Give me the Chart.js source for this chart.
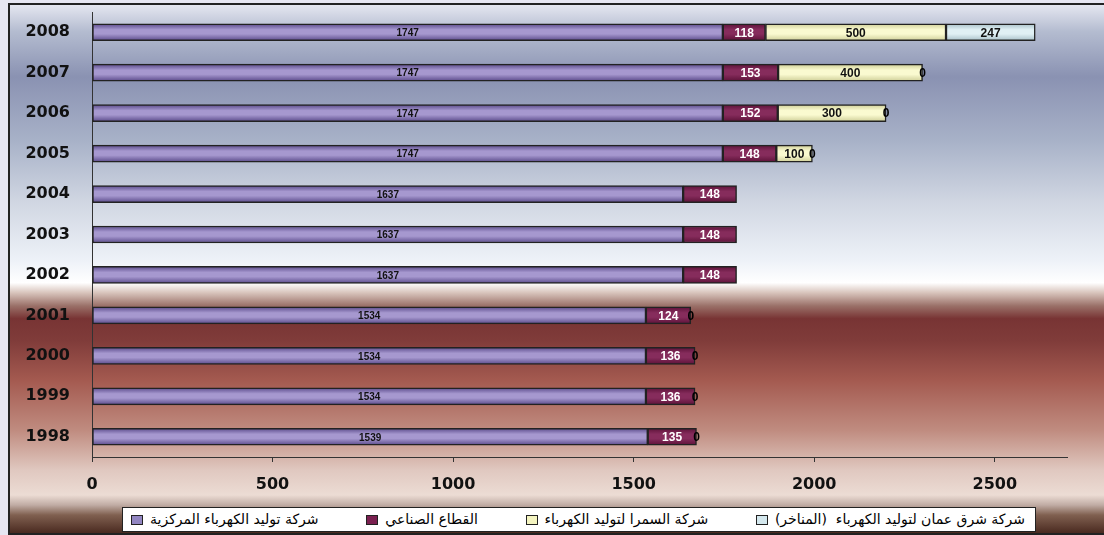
<!DOCTYPE html>
<html>
<head>
<meta charset="utf-8">
<script src="https://cdn.jsdelivr.net/npm/chart.js@4/dist/chart.umd.min.js"></script>
<style>
  html, body { margin: 0; padding: 0; }
  body { width: 1104px; height: 535px; background: #e6e6f2; position: relative; overflow: hidden; }
  #frame {
    position: absolute; left: 8px; top: 3px; width: 1104px; height: 528px;
    border-left: 2px solid #222; border-top: 2px solid #222; border-bottom: 2px solid #222;
    background: linear-gradient(to bottom,
      #e4e6f0 0%, #b4bcd0 5%, #8a92b2 13.6%, #a8b2c8 25.8%, #d0d6e2 37.2%,
      #eef2f8 48.5%, #ffffff 52.6%, #d8c4bc 54.5%, #9a7068 57%, #783434 59.4%,
      #803c3a 63.6%, #a45a50 71.1%, #c08c80 80.6%, #e0c8c0 88.1%, #ecdcd4 92.8%,
      #c0aca4 94.7%, #806050 96.6%, #4a2a20 100%);
  }
  #chart { position: absolute; left: 0; top: 0; }
  #legend {
    position: absolute; left: 122px; top: 507px; width: 914px; height: 25px;
    background: #fff; border: 1px solid #222; box-sizing: border-box;
    padding: 0 10px 0 8px;
    display: flex; align-items: center; justify-content: space-between;
    font-family: "DejaVu Sans", sans-serif; font-size: 14px; color: #000;
  }
  #legend .item { display: flex; align-items: center; }
  #legend .sw { width: 10px; height: 8px; border: 1px solid #222; margin-right: 7px; }
  #legend .tx { white-space: pre; line-height: 17px; }
</style>
</head>
<body>
<div id="frame"></div>
<canvas id="chart" width="1104" height="535"></canvas>
<div id="legend"></div>
<script>
'use strict';

let years = ['2008', '2007', '2006', '2005', '2004', '2003', '2002', '2001', '2000', '1999', '1998'];

let centralGen = [1747, 1747, 1747, 1747, 1637, 1637, 1637, 1534, 1534, 1534, 1539];
let industrial = [118, 153, 152, 148, 148, 148, 148, 124, 136, 136, 135];
let samra = [500, 400, 300, 100, null, null, null, 0, 0, 0, 0];
let eastAmman = [247, 0, 0, 0, null, null, null, null, null, null, null];

let seriesNames = [
    'شركة توليد الكهرباء المركزية',
    'القطاع الصناعي',
    'شركة السمرا لتوليد الكهرباء',
    'شركة شرق عمان لتوليد الكهرباء  (المناخر)'
];

let xTicks = [0, 500, 1000, 1500, 2000, 2500];

const BAR_H = 17;
const FONT = '"Liberation Sans", Arial, sans-serif';
const AXIS_FONT = '"DejaVu Sans", sans-serif';

let swatch = ['#9286c2', '#7a2050', '#f4f4c0', '#d4e8ee'];

// dark edge / light middle, like the old 3d-looking excel bars
function barFill(dark, light, flat) {
    return function(context) {
        let chart = context.chart;
        let ya = chart.scales.y;
        if (!ya || context.dataIndex === undefined) return flat;
        let c = ya.getPixelForValue(context.dataIndex);
        if (!isFinite(c)) return flat;
        let g = chart.ctx.createLinearGradient(0, c - BAR_H / 2, 0, c + BAR_H / 2);
        g.addColorStop(0, dark);
        g.addColorStop(0.35, light);
        g.addColorStop(0.6, light);
        g.addColorStop(1, dark);
        return g;
    };
}

let labelStyles = [
    { font: 'bold 10px ' + FONT, color: '#111' },
    { font: 'bold 12px ' + FONT, color: '#fff' },
    { font: 'bold 12px ' + FONT, color: '#111' },
    { font: 'bold 12px ' + FONT, color: '#111' }
];

const barLabels = {
    id: 'barLabels',
    afterDatasetsDraw(chart) {
        let ctx = chart.ctx;
        chart.data.datasets.forEach((ds, i) => {
            let meta = chart.getDatasetMeta(i);
            meta.data.forEach((bar, j) => {
                let v = ds.data[j];
                if (v === null || v === undefined) return;
                ctx.save();
                ctx.textAlign = 'center';
                ctx.textBaseline = 'middle';
                if (v === 0) {
                    ctx.font = 'bold 12px ' + FONT;
                    ctx.fillStyle = '#000';
                    ctx.fillText('0', bar.x, bar.y + 1);
                } else {
                    ctx.font = labelStyles[i].font;
                    ctx.fillStyle = labelStyles[i].color;
                    ctx.fillText(String(v), (bar.x + bar.base) / 2, bar.y + 1);
                }
                ctx.restore();
            });
        });
    }
};

let ctx = document.getElementById('chart').getContext('2d');
let myChart = new Chart(ctx, {
    type: 'bar',
    data: {
        labels: years,
        datasets: [{
            label: seriesNames[0],
            data: centralGen,
            backgroundColor: barFill('#5a4a8a', '#a698cf', swatch[0]),
            borderColor: '#222',
            borderWidth: 1.5,
            borderSkipped: false
        }, {
            label: seriesNames[1],
            data: industrial,
            backgroundColor: barFill('#5c1238', '#862c5c', swatch[1]),
            borderColor: '#222',
            borderWidth: 1.5,
            borderSkipped: false
        }, {
            label: seriesNames[2],
            data: samra,
            backgroundColor: barFill('#cfcf98', '#fafad0', swatch[2]),
            borderColor: '#222',
            borderWidth: 1.5,
            borderSkipped: false
        }, {
            label: seriesNames[3],
            data: eastAmman,
            backgroundColor: barFill('#a8c0c8', '#e0f0f4', swatch[3]),
            borderColor: '#222',
            borderWidth: 1.5,
            borderSkipped: false
        }]
    },
    options: {
        indexAxis: 'y',
        responsive: false,
        animation: false,
        devicePixelRatio: 1,
        layout: { padding: { left: 0, right: 37, top: 12, bottom: 38 } },
        datasets: { bar: { barThickness: BAR_H } },
        scales: {
            x: {
                stacked: true,
                min: 0,
                max: 2700,
                afterBuildTicks: (scale) => {
                    scale.ticks = xTicks.map(v => ({ value: v }));
                },
                afterFit: (scale) => {
                    scale.height = 40;
                    scale.paddingLeft = 0;
                    scale.paddingRight = 0;
                },
                grid: { drawOnChartArea: false, tickLength: 5, color: '#333' },
                border: { display: true, color: '#333', width: 1 },
                ticks: {
                    padding: 13,
                    color: '#111',
                    font: { family: AXIS_FONT, size: 16, weight: 'bold' },
                    callback: (v) => String(v)
                }
            },
            y: {
                stacked: true,
                grid: { display: false },
                border: { display: true, color: '#333', width: 1 },
                afterFit: (scale) => {
                    scale.width = 92;
                    scale.paddingTop = 0;
                    scale.paddingBottom = 0;
                },
                ticks: {
                    padding: 14,
                    color: '#111',
                    font: { family: AXIS_FONT, size: 16, weight: 'bold' }
                }
            }
        },
        plugins: {
            tooltip: { enabled: false },
            legend: { display: false }
        }
    },
    plugins: [barLabels]
});

// legend: square then text, spread across the box like the original
let legend = document.getElementById('legend');
seriesNames.forEach((name, i) => {
    let item = document.createElement('span');
    item.className = 'item';
    let sw = document.createElement('span');
    sw.className = 'sw';
    sw.style.background = swatch[i];
    let tx = document.createElement('span');
    tx.className = 'tx';
    tx.dir = 'rtl';
    tx.textContent = name;
    item.appendChild(sw);
    item.appendChild(tx);
    legend.appendChild(item);
});
</script>
</body>
</html>
